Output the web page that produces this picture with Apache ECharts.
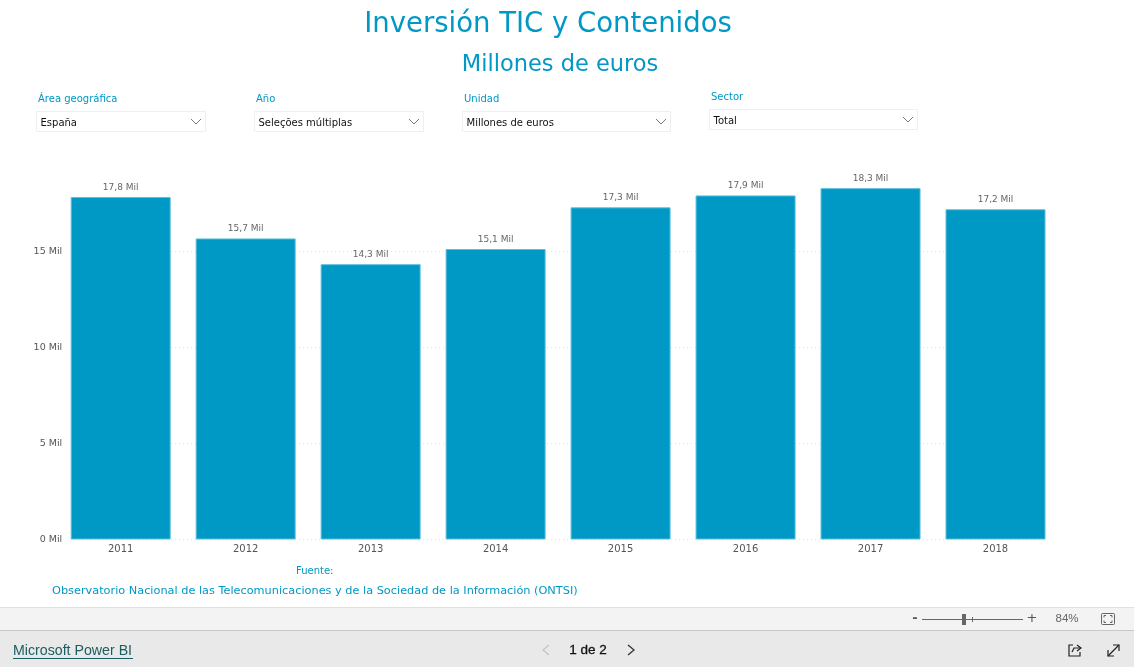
<!DOCTYPE html>
<html><head><meta charset="utf-8">
<style>html,body{margin:0;padding:0;background:#fff}#c{width:1134px;height:667px}</style>
<script src="https://cdn.jsdelivr.net/npm/echarts@6/dist/echarts.min.js"></script>
</head><body><div id="c"></div>
<script>
const categories = ['2011','2012','2013','2014','2015','2016','2017','2018'];
const values = [17.84,15.68,14.34,15.13,17.3,17.92,18.3,17.2];
const BLUE = '#0098c5', F = '"DejaVu Sans"';
const slicers = [
  {label:'Área geográfica', value:'España', lx:38, ly:99, x:36, y:111, w:170},
  {label:'Año', value:'Seleções múltiplas', lx:256, ly:99, x:254, y:111, w:170},
  {label:'Unidad', value:'Millones de euros', lx:464, ly:99, x:462, y:111, w:209},
  {label:'Sector', value:'Total', lx:711, ly:97, x:709, y:109, w:209}
];
const txt = (x,y,text,size,fill,align='left',extra={}) => ({type:'text',x,y,silent:true,
  style:Object.assign({text,fontFamily:F,fontSize:size,fill,align,verticalAlign:'middle'},extra)});
const g = [];
g.push(txt(548,25,'Inversión TIC y Contenidos',27.5,BLUE,'center'));
g.push(txt(560,65,'Millones de euros',22.5,BLUE,'center'));
slicers.forEach(s=>{
  g.push(txt(s.lx,s.ly,s.label,10,BLUE));
  g.push({type:'rect',silent:true,shape:{x:s.x+.5,y:s.y+.5,width:s.w-1,height:20},style:{fill:'#fff',stroke:'#efefef',lineWidth:1}});
  g.push(txt(s.x+4.5,s.y+12,s.value,10,'#111'));
  const ax=s.x+s.w-10;
  g.push({type:'polyline',silent:true,shape:{points:[[ax-5,s.y+8],[ax,s.y+13],[ax+5,s.y+8]]},style:{fill:'none',stroke:'#777',lineWidth:1}});
});
g.push(txt(296,571,'Fuente:',10,BLUE));
g.push(txt(52,591,'Observatorio Nacional de las Telecomunicaciones y de la Sociedad de la Información (ONTSI)',11.3,BLUE));
// report footer bars
g.push({type:'rect',silent:true,z:-1,shape:{x:0,y:607,width:1134,height:23},style:{fill:'#f3f3f3'}});
g.push({type:'rect',silent:true,z:-1,shape:{x:0,y:630,width:1134,height:37},style:{fill:'#e9e9e9'}});
g.push({type:'line',silent:true,shape:{x1:0,y1:607.5,x2:1134,y2:607.5},style:{stroke:'#e0e0e0',lineWidth:1}});
g.push({type:'line',silent:true,shape:{x1:0,y1:630.5,x2:1134,y2:630.5},style:{stroke:'#c8c8c8',lineWidth:1}});
// zoom control
g.push(txt(915,619,'-',13,'#555','center',{fontWeight:'bold'}));
g.push({type:'line',silent:true,shape:{x1:922,y1:619.5,x2:1023,y2:619.5},style:{stroke:'#666',lineWidth:1}});
g.push({type:'line',silent:true,shape:{x1:972.5,y1:617,x2:972.5,y2:622},style:{stroke:'#666',lineWidth:1}});
g.push({type:'rect',silent:true,shape:{x:962,y:614,width:4,height:11},style:{fill:'#666'}});
g.push(txt(1032,619,'+',13,'#555','center'));
g.push(txt(1067,619,'84%',11.5,'#666','center',{fontFamily:'"Liberation Sans"'}));
g.push({type:'rect',silent:true,shape:{x:1101.5,y:613.5,width:13,height:11,r:1},style:{fill:'none',stroke:'#666',lineWidth:1}});
[[[1104,617.5],[1104,615.5],[1106,615.5]],[[1110,615.5],[1112,615.5],[1112,617.5]],
 [[1104,620.5],[1104,622.5],[1106,622.5]],[[1110,622.5],[1112,622.5],[1112,620.5]]].forEach(points=>
  g.push({type:'polyline',silent:true,shape:{points},style:{fill:'none',stroke:'#666',lineWidth:1}}));
// page bar
g.push(txt(13,651,'Microsoft Power BI',14.2,'#1c5d60','left',{fontFamily:'"Liberation Sans"'}));
g.push({type:'line',silent:true,shape:{x1:13,y1:658.5,x2:133,y2:658.5},style:{stroke:'#1c5d60',lineWidth:1}});
g.push({type:'polyline',silent:true,shape:{points:[[549,645],[543,650],[549,655]]},style:{fill:'none',stroke:'#c4c4c4',lineWidth:1.3}});
g.push(txt(588,650,'1 de 2',13.5,'#111','center',{fontFamily:'"Liberation Sans"',stroke:'#111',lineWidth:0.3}));
g.push({type:'polyline',silent:true,shape:{points:[[628,645],[634,650],[628,655]]},style:{fill:'none',stroke:'#333',lineWidth:1.3}});
// share icon
g.push({type:'polyline',silent:true,shape:{points:[[1073,645],[1069,645],[1069,656],[1080,656],[1080,652]]},style:{fill:'none',stroke:'#222',lineWidth:1.2}});
g.push({type:'polyline',silent:true,shape:{points:[[1072,652],[1074,648],[1080,648]]},style:{fill:'none',stroke:'#222',lineWidth:1.2}});
g.push({type:'polyline',silent:true,shape:{points:[[1077,645],[1081,648],[1077,651]]},style:{fill:'none',stroke:'#222',lineWidth:1.2}});
// expand icon
g.push({type:'line',silent:true,shape:{x1:1108,y1:656,x2:1119,y2:645},style:{stroke:'#222',lineWidth:1.2}});
g.push({type:'polyline',silent:true,shape:{points:[[1108,650],[1108,656],[1114,656]]},style:{fill:'none',stroke:'#222',lineWidth:1.2}});
g.push({type:'polyline',silent:true,shape:{points:[[1113,645],[1119,645],[1119,651]]},style:{fill:'none',stroke:'#222',lineWidth:1.2}});

const chart = echarts.init(document.getElementById('c'),null,{renderer:'canvas'});
chart.setOption({
  animation:false,
  backgroundColor:'#fff',
  graphic:{elements:g},
  grid:[
    {left:58.2,right:76,top:155.5,bottom:127.5},
    {left:71,right:89,top:155.5,bottom:127.5}
  ],
  xAxis:[
    {type:'category',data:categories,gridIndex:0,
     axisLine:{show:false},axisTick:{show:false},
     axisLabel:{fontFamily:F,fontSize:10,color:'#555',margin:5}},
    {type:'category',data:categories,gridIndex:1,show:false}
  ],
  yAxis:[
    {type:'value',min:0,max:20,interval:5,gridIndex:0,
     axisLine:{show:false},axisTick:{show:false},splitLine:{show:false},
     axisLabel:{fontFamily:F,fontSize:9.5,color:'#555',margin:-4,showMaxLabel:false,formatter:v=>v+' Mil'}},
    {type:'value',min:0,max:20,interval:5,gridIndex:1,
     axisLine:{show:false},axisTick:{show:false},axisLabel:{show:false},
     splitLine:{show:true,showMinLine:true,showMaxLine:false,lineStyle:{color:'#e2e2e2',type:[1,3],width:1}}}
  ],
  series:[{type:'bar',data:values,barWidth:100,xAxisIndex:0,yAxisIndex:0,
    itemStyle:{color:BLUE,borderColor:'#5dbfdc',borderWidth:1},
    label:{show:true,position:'top',distance:5,fontFamily:F,fontSize:9,color:'#666',
      formatter:p=>p.value.toFixed(1).replace('.',',')+' Mil'}}]
});
</script></body></html>
